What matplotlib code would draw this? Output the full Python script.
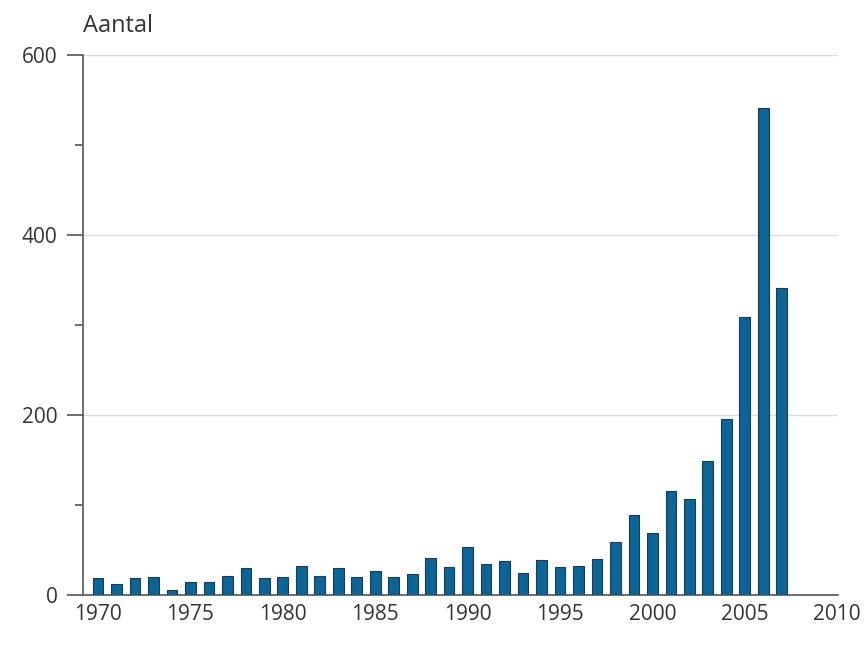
import matplotlib.pyplot as plt
import numpy as np

plt.rcParams['font.family'] = ['Open Sans', 'DejaVu Sans']

# number per year
years = list(range(1970, 2008))
aantal = [19, 13, 19, 21, 6, 15, 15, 22, 30, 19,
          21, 33, 22, 30, 21, 27, 21, 24, 42, 32,
          54, 35, 38, 25, 39, 32, 33, 41, 59, 89,
          69, 116, 107, 149, 196, 309, 541, 341]
xticks = list(range(1970, 2011, 5))
yticks = [0, 200, 400, 600]

fig = plt.figure(figsize=(8.64, 6.46), dpi=100)
ax = fig.add_axes([0.0964, 0.0782, 0.8736, 0.8367])

ax.bar(years, aantal, width=0.58, color='#0a6598', edgecolor='#22384c', linewidth=0.8, zorder=3)

ax.set_xlim(1969.2, 2010.05)
ax.set_ylim(0, 600)
ax.set_xticks(xticks)
ax.set_yticks(yticks)
ax.set_yticks([100, 300, 500], minor=True)
ax.grid(axis='y', which='major', color='#dcdcdc', linewidth=1.0, zorder=0)

for s in ['top', 'right']:
    ax.spines[s].set_visible(False)
ax.spines['left'].set_color('#555555')
ax.spines['bottom'].set_color('#555555')
ax.spines['left'].set_linewidth(1.2)
ax.spines['bottom'].set_linewidth(1.2)

ax.tick_params(axis='y', which='major', length=11.5, width=1.2, color='#555555',
               labelsize=15, labelcolor='#333333', pad=7)
ax.tick_params(axis='y', which='minor', length=6, width=1.2, color='#555555')
ax.tick_params(axis='x', length=0, labelsize=15, labelcolor='#333333', pad=6)

fig.text(0.096, 0.96, 'Aantal', fontsize=17, color='#333333', ha='left', va='center')

fig.savefig('out.png', dpi=100)
